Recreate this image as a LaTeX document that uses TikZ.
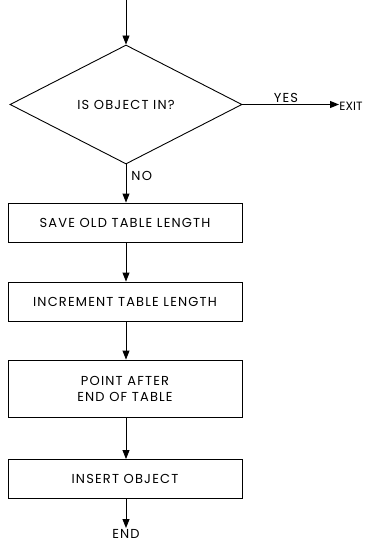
\documentclass[tikz,border=0pt]{standalone}
\usepackage{fontspec}
\setmainfont[LetterSpace=9]{Poppins}
\newfontfamily\exitfont{Poppins}
\usetikzlibrary{shapes.geometric,arrows.meta}
\begin{document}
\begin{tikzpicture}[x=1pt,y=-1pt,
  font=\fontsize{13}{16}\selectfont,
  every path/.style={line width=0.9pt},
  flow/.style={draw, -{Triangle[width=7pt,length=9pt]}},
  procbox/.style={draw, rectangle, minimum width=234pt, inner sep=0pt, align=center},
  decision/.style={draw, diamond, minimum width=232pt, minimum height=119pt, inner sep=0pt},
  lbl/.style={inner sep=1pt}]
\useasboundingbox (0,0) rectangle (364,556);
\coordinate (start) at (126,0);
\node[decision] (dec) at (126,104.5) {IS OBJECT IN?};
\node[procbox, minimum height=39pt] (b1) at (125,222.5) {SAVE OLD TABLE LENGTH};
\node[procbox, minimum height=39pt] (b2) at (125,301.5) {INCREMENT TABLE LENGTH};
\node[procbox, minimum height=57pt] (b3) at (125,388.5) {POINT AFTER\\END OF TABLE};
\node[procbox, minimum height=39pt] (b4) at (125,479) {INSERT OBJECT};
\node[inner sep=0pt, anchor=west, font=\exitfont\fontsize{12}{14}\selectfont] (exit) at (339,106) {EXIT};
\node[lbl] (end) at (126,534) {END};
\draw[flow] (start) -- (dec.north);
\draw[flow] (dec.east) -- node[lbl, above, pos=0.45] (yes) {YES} (dec.east -| exit.west);
\draw[flow] (dec.south) -- node[lbl, right, pos=0.3, xshift=4pt] (no) {NO} (dec.south |- b1.north);
\draw[flow] (dec.south |- b1.south) -- (dec.south |- b2.north);
\draw[flow] (dec.south |- b2.south) -- (dec.south |- b3.north);
\draw[flow] (dec.south |- b3.south) -- (dec.south |- b4.north);
\draw[flow] (dec.south |- b4.south) -- (end.north);
\end{tikzpicture}
\end{document}
